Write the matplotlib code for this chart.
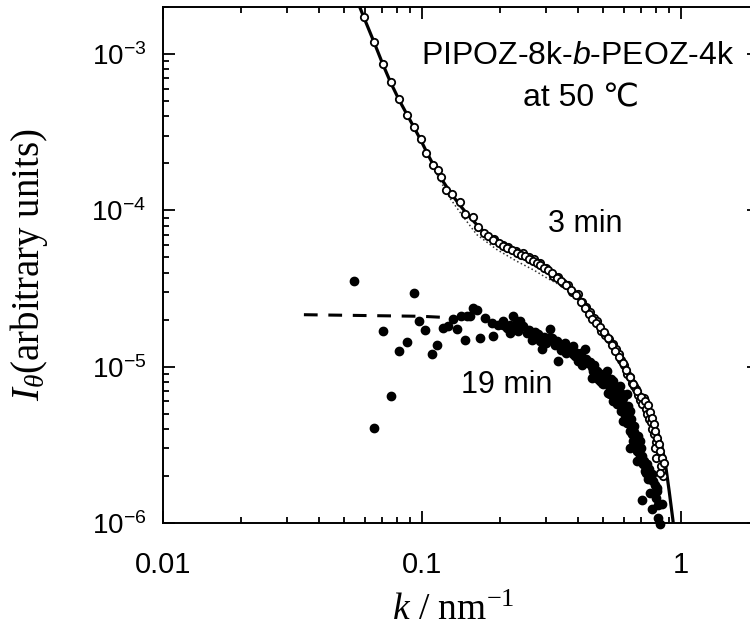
import matplotlib
matplotlib.use('Agg')
import matplotlib.pyplot as plt
from matplotlib.ticker import FixedLocator, FixedFormatter, LogLocator, NullFormatter

plt.rcParams.update({
    'font.family': ['Liberation Sans', 'DejaVu Sans'],
    'mathtext.fontset': 'custom',
    'mathtext.rm': 'Liberation Sans',
    'mathtext.it': 'Liberation Serif:italic',
    'mathtext.bf': 'Liberation Serif',
    'mathtext.sf': 'Liberation Sans:italic',
})

# ---- data: 3 min (open circles) ----
k3 = [0.0597, 0.0653, 0.0704, 0.0756, 0.0815, 0.0879, 0.0931, 0.0991, 0.1032, 0.1098,
      0.1153, 0.1184, 0.1243, 0.1311, 0.1402, 0.1472, 0.1574, 0.1652, 0.1728, 0.1806,
      0.1880, 0.1974, 0.2055, 0.2129, 0.2226, 0.2327, 0.2411, 0.2498, 0.2589, 0.2683,
      0.2780, 0.2855, 0.2958, 0.3065, 0.3176, 0.3306, 0.3441, 0.3597, 0.3761, 0.3932,
      0.4111, 0.4260, 0.4415, 0.4534, 0.4698, 0.4868, 0.5043, 0.5225, 0.5391, 0.5562,
      0.5763, 0.5945, 0.6134, 0.6328, 0.6528, 0.6764, 0.7009, 0.7261, 0.7458, 0.7592,
      0.7727, 0.7831, 0.7937, 0.8079, 0.8187, 0.8297, 0.8446, 0.8598, 0.8297]
I3 = [1.714e-3, 1.186e-3, 8.64e-4, 6.58e-4, 5.13e-4, 4.06e-4, 3.42e-4, 2.85e-4, 2.33e-4, 1.94e-4,
      1.82e-4, 1.63e-4, 1.34e-4, 1.27e-4, 1.13e-4, 9.44e-5, 9.03e-5, 7.80e-5, 7.14e-5, 6.83e-5,
      6.48e-5, 6.21e-5, 5.94e-5, 5.73e-5, 5.56e-5, 5.36e-5, 5.20e-5, 5.09e-5, 4.91e-5, 4.73e-5,
      4.59e-5, 4.49e-5, 4.30e-5, 4.14e-5, 3.96e-5, 3.68e-5, 3.52e-5, 3.32e-5, 3.11e-5, 2.87e-5,
      2.59e-5, 2.37e-5, 2.17e-5, 2.01e-5, 1.90e-5, 1.79e-5, 1.66e-5, 1.52e-5, 1.37e-5, 1.26e-5,
      1.15e-5, 1.05e-5, 9.51e-6, 8.58e-6, 7.74e-6, 6.98e-6, 6.39e-6, 6.03e-6, 5.69e-6, 5.13e-6,
      4.70e-6, 4.30e-6, 3.88e-6, 3.50e-6, 3.20e-6, 2.89e-6, 2.61e-6, 2.42e-6, 2.09e-6]
# additional overlapping 3 min points
k3b = [0.190, 0.205, 0.215, 0.230, 0.245, 0.260, 0.270, 0.285, 0.300, 0.320,
       0.335, 0.350, 0.365, 0.380, 0.400, 0.415, 0.430, 0.445, 0.460, 0.475,
       0.490, 0.510, 0.525, 0.545, 0.560, 0.575, 0.585, 0.600, 0.620, 0.635,
       0.645, 0.660, 0.670, 0.685, 0.695, 0.710, 0.720, 0.735, 0.740, 0.750,
       0.765, 0.775, 0.785, 0.800, 0.810, 0.825, 0.835, 0.850, 0.800, 0.790]
I3b = [6.6e-5, 6.0e-5, 5.8e-5, 5.5e-5, 5.3e-5, 5.0e-5, 4.85e-5, 4.6e-5, 4.25e-5, 3.8e-5,
       3.75e-5, 3.45e-5, 3.35e-5, 3.0e-5, 2.9e-5, 2.6e-5, 2.4e-5, 2.25e-5, 2.05e-5, 1.95e-5,
       1.7e-5, 1.6e-5, 1.5e-5, 1.4e-5, 1.3e-5, 1.2e-5, 1.1e-5, 1.02e-5, 9.0e-6, 8.6e-6,
       7.9e-6, 7.5e-6, 7.2e-6, 6.6e-6, 6.1e-6, 5.8e-6, 6.3e-6, 5.4e-6, 5.0e-6, 4.6e-6,
       4.4e-6, 4.0e-6, 3.7e-6, 3.3e-6, 3.0e-6, 2.7e-6, 2.3e-6, 2.0e-6, 2.6e-6, 3.0e-6]

# fit curves for 3 min
k_fit = [0.056, 0.0597, 0.0653, 0.0704, 0.0756, 0.0815, 0.0879, 0.0931, 0.0991, 0.1050,
         0.1120, 0.1200, 0.1300, 0.1400, 0.1500, 0.1650, 0.1800, 0.2000, 0.2250, 0.2500,
         0.2800, 0.3100, 0.3450, 0.3900, 0.4400, 0.4900, 0.5400, 0.5950, 0.6500, 0.7000,
         0.7500, 0.8000, 0.8400, 0.8700, 0.9000, 0.9300, 0.9600]
I_fit = [2.23e-3, 1.71e-3, 1.19e-3, 8.7e-4, 6.6e-4, 5.1e-4, 4.05e-4, 3.40e-4, 2.80e-4, 2.30e-4,
         1.88e-4, 1.55e-4, 1.27e-4, 1.08e-4, 9.4e-5, 7.9e-5, 6.9e-5, 6.15e-5, 5.55e-5, 5.1e-5,
         4.6e-5, 4.1e-5, 3.5e-5, 2.9e-5, 2.2e-5, 1.77e-5, 1.38e-5, 1.05e-5, 8.0e-6, 6.5e-6,
         5.4e-6, 4.1e-6, 3.2e-6, 2.4e-6, 1.6e-6, 1.05e-6, 6.5e-7]
k_dot = [0.110, 0.128, 0.145, 0.1627, 0.1943, 0.232, 0.270, 0.303, 0.350, 0.400]
I_dot = [1.90e-4, 1.20e-4, 9.0e-5, 7.0e-5, 5.62e-5, 4.73e-5, 4.15e-5, 3.70e-5, 3.25e-5, 2.80e-5]

# ---- data: 19 min (filled circles) ----
k19 = [0.0548, 0.0654, 0.0705, 0.0757, 0.0813, 0.0873, 0.0928, 0.0976, 0.1030, 0.1095,
       0.1140, 0.1208, 0.1263, 0.1321, 0.1361, 0.1411, 0.1472, 0.1488, 0.1532, 0.1576,
       0.1627, 0.1675, 0.1751, 0.1858, 0.1885, 0.1971, 0.2060, 0.2123, 0.2186, 0.2252,
       0.2321, 0.2354, 0.2390, 0.2537, 0.2652, 0.2731, 0.2855, 0.2899, 0.3073, 0.3120,
       0.3168, 0.3312, 0.3360, 0.3411, 0.3512, 0.3597, 0.3728, 0.3826, 0.3839, 0.3957,
       0.4003, 0.4074, 0.4196, 0.4260, 0.4375, 0.4522, 0.4522, 0.4587, 0.4727, 0.4782,
       0.4868, 0.5012, 0.5012, 0.5089, 0.5166, 0.5225, 0.5320, 0.5320, 0.5401, 0.5478,
       0.5478, 0.5646, 0.5646, 0.5763, 0.5814, 0.5866, 0.5987, 0.5987, 0.5987, 0.6170,
       0.6170, 0.6170, 0.6245, 0.6355, 0.6355, 0.6355, 0.6452, 0.6544, 0.6584, 0.6745,
       0.6745, 0.6841, 0.6946, 0.6946, 0.7052, 0.7151, 0.7261, 0.7372, 0.7458, 0.7592,
       0.7707, 0.7707, 0.7817, 0.8057, 0.8057, 0.8172, 0.8297, 0.8424]
I19 = [3.52e-5, 4.08e-6, 1.69e-5, 6.49e-6, 1.26e-5, 1.44e-5, 2.97e-5, 1.97e-5, 1.72e-5, 1.20e-5,
       1.38e-5, 1.76e-5, 1.81e-5, 2.01e-5, 1.73e-5, 2.12e-5, 1.49e-5, 2.10e-5, 2.10e-5, 2.39e-5,
       2.30e-5, 1.53e-5, 2.05e-5, 1.91e-5, 1.56e-5, 1.86e-5, 1.86e-5, 1.76e-5, 1.65e-5, 2.10e-5,
       1.96e-5, 1.69e-5, 1.96e-5, 1.65e-5, 1.49e-5, 1.67e-5, 1.46e-5, 1.29e-5, 1.53e-5, 1.73e-5,
       1.53e-5, 1.46e-5, 1.09e-5, 1.37e-5, 1.35e-5, 1.22e-5, 1.32e-5, 1.35e-5, 1.20e-5, 1.23e-5,
       1.09e-5, 1.14e-5, 1.11e-5, 1.29e-5, 1.05e-5, 9.9e-6, 8.49e-6, 9.37e-6, 9.37e-6, 8.33e-6,
       8.09e-6, 8.49e-6, 7.71e-6, 8.93e-6, 9.37e-6, 6.78e-6, 7.33e-6, 6.65e-6, 7.71e-6, 8.09e-6,
       6.03e-6, 6.98e-6, 5.74e-6, 6.21e-6, 7.52e-6, 5.20e-6, 6.33e-6, 5.74e-6, 4.49e-6, 6.65e-6,
       5.20e-6, 4.38e-6, 4.83e-6, 5.20e-6, 3.88e-6, 3.03e-6, 3.69e-6, 3.35e-6, 4.17e-6, 2.89e-6,
       2.49e-6, 3.19e-6, 2.49e-6, 3.35e-6, 1.40e-6, 2.37e-6, 2.15e-6, 2.37e-6, 1.91e-6, 1.56e-6,
       2.05e-6, 1.23e-6, 1.86e-6, 1.68e-6, 1.60e-6, 1.08e-6, 0.99e-6, 1.32e-6]
# additional 19 min points in the dense band
k19b = [0.205, 0.218, 0.228, 0.245, 0.258, 0.270, 0.280, 0.295, 0.300, 0.322,
        0.327, 0.345, 0.355, 0.365, 0.378, 0.390, 0.410, 0.415, 0.430, 0.445,
        0.460, 0.465, 0.490, 0.495, 0.510, 0.525, 0.535, 0.550, 0.560, 0.570,
        0.580, 0.590, 0.605, 0.610, 0.625, 0.640, 0.645, 0.660, 0.665, 0.680,
        0.690, 0.700, 0.710, 0.720, 0.730, 0.750, 0.760, 0.790, 0.800, 0.815]
I19b = [1.95e-5, 1.85e-5, 1.78e-5, 1.82e-5, 1.72e-5, 1.58e-5, 1.62e-5, 1.55e-5, 1.42e-5, 1.45e-5,
        1.38e-5, 1.28e-5, 1.42e-5, 1.30e-5, 1.25e-5, 1.17e-5, 1.22e-5, 1.03e-5, 1.12e-5, 1.07e-5,
        1.02e-5, 8.9e-6, 9.0e-6, 7.9e-6, 8.1e-6, 7.6e-6, 8.4e-6, 7.2e-6, 6.4e-6, 6.8e-6,
        5.9e-6, 6.7e-6, 5.4e-6, 4.9e-6, 5.6e-6, 4.6e-6, 4.2e-6, 3.8e-6, 3.1e-6, 3.6e-6,
        2.8e-6, 3.0e-6, 2.7e-6, 2.5e-6, 2.1e-6, 2.2e-6, 1.9e-6, 1.75e-6, 1.45e-6, 1.3e-6]

# dashed line for 19 min (low-k extrapolation)
k_guin = [0.035, 0.10, 0.16]
I_guin = [2.15e-5, 2.10e-5, 2.02e-5]

# ticks
x_ticks = [0.01, 0.1, 1]
x_labels = ['0.01', '0.1', '1']
y_ticks = [1e-6, 1e-5, 1e-4, 1e-3]
y_labels = [r'$\mathregular{10^{-6}}$', r'$\mathregular{10^{-5}}$',
            r'$\mathregular{10^{-4}}$', r'$\mathregular{10^{-3}}$']

fig = plt.figure(figsize=(7.5, 6.36), dpi=100)
ax = fig.add_axes([0.2173, 0.1777, 0.7947, 0.8113])
ax.set_xscale('log')
ax.set_yscale('log')

ax.plot(k_fit, I_fit, '-', color='black', lw=2.3, zorder=2)
ax.plot(k_dot, I_dot, ':', color='#333333', lw=1.1, zorder=2)
ax.plot(k_guin, I_guin, color='black', lw=2.2, dashes=(4.5, 3.5), zorder=2)
ax.plot(k19, I19, 'o', color='black', ms=6, zorder=3, clip_on=False)
ax.plot(k19b, I19b, 'o', color='black', ms=6, zorder=3)
ax.plot(k3b, I3b, 'o', mfc='white', mec='black', mew=1.3, ms=5.3, zorder=4)
ax.plot(k3, I3, 'o', mfc='white', mec='black', mew=1.3, ms=5.3, zorder=4)

ax.set_xlim(0.01, 2)
ax.set_ylim(1e-6, 2e-3)

ax.xaxis.set_major_locator(FixedLocator(x_ticks))
ax.xaxis.set_major_formatter(FixedFormatter(x_labels))
ax.yaxis.set_major_locator(FixedLocator(y_ticks))
ax.yaxis.set_major_formatter(FixedFormatter(y_labels))
ax.xaxis.set_minor_locator(LogLocator(base=10, subs=range(2, 10), numticks=20))
ax.yaxis.set_minor_locator(LogLocator(base=10, subs=range(2, 10), numticks=20))
ax.xaxis.set_minor_formatter(NullFormatter())
ax.yaxis.set_minor_formatter(NullFormatter())

ax.tick_params(which='both', direction='in', top=True, right=True, width=1.3, color='black')
ax.tick_params(which='major', length=8.5)
ax.tick_params(which='minor', length=4.5)
ax.tick_params(axis='x', which='major', labelsize=21, pad=20)
ax.tick_params(axis='y', which='major', labelsize=20, pad=12)
for s in ax.spines.values():
    s.set_linewidth(1.4)

ax.text(0.400, 9.65e-4, 'PIPOZ-8k-$\\mathsf{b}$-PEOZ-4k', ha='center', va='center', fontsize=23)
ax.text(0.411, 5.2e-4, 'at 50 \u2103', ha='center', va='center', fontsize=23)
ax.text(0.428, 8.15e-5, '3 min', ha='center', va='center', fontsize=22)
ax.text(0.213, 7.6e-6, '19 min', ha='center', va='center', fontsize=22)

ax.set_ylabel(r'$I_\theta$(arbitrary units)', fontfamily='Liberation Serif', fontsize=28)
ax.yaxis.set_label_coords(-0.19, 0.5)
ax.set_xlabel(r'$k$ / nm$^{\mathbf{-1}}$', fontfamily='Liberation Serif', fontsize=27)
ax.xaxis.set_label_coords(0.4866, -0.136)

fig.savefig('out.png', dpi=100)
